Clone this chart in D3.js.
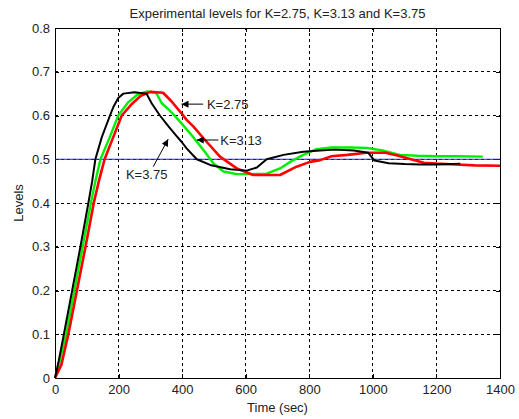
<!DOCTYPE html>
<html>
<head>
<meta charset="utf-8">
<script src="https://cdn.jsdelivr.net/npm/d3@7"></script>
<style>
    body { margin: 0; background: #fff; }
    text { font-family: "Liberation Sans", Arial, sans-serif; fill: #222; }
</style>
</head>
<body>
<svg id="mainSvg" width="519" height="419"></svg>
<script>
// time (sec) and level, one pair of arrays per gain
const timeK275 = [0, 20, 42, 69, 96, 122, 138, 156, 183, 210, 240, 270, 300, 340, 367, 398, 414, 435, 467, 519, 572, 624, 708, 760, 802, 834, 870, 920, 980, 1040, 1080, 1120, 1160, 1200, 1260, 1320, 1400];
const levelK275 = [0, 0.03, 0.1, 0.2, 0.3, 0.4, 0.45, 0.5, 0.55, 0.6, 0.625, 0.645, 0.654, 0.652, 0.632, 0.605, 0.59, 0.575, 0.548, 0.506, 0.479, 0.464, 0.464, 0.483, 0.494, 0.498, 0.507, 0.51, 0.515, 0.515, 0.508, 0.5, 0.492, 0.49, 0.488, 0.486, 0.485];

const timeK313 = [0, 15, 35, 61, 87, 113, 127, 143, 172, 199, 230, 260, 290, 318, 336, 367, 398, 430, 467, 498, 530, 572, 620, 666, 708, 740, 781, 823, 870, 930, 980, 1030, 1085, 1140, 1200, 1260, 1346];
const levelK313 = [0, 0.04, 0.1, 0.2, 0.3, 0.4, 0.45, 0.5, 0.55, 0.6, 0.63, 0.648, 0.655, 0.652, 0.628, 0.607, 0.582, 0.555, 0.521, 0.491, 0.472, 0.466, 0.466, 0.467, 0.479, 0.494, 0.51, 0.523, 0.527, 0.527, 0.526, 0.52, 0.51, 0.508, 0.507, 0.507, 0.506];

const timeK375 = [0, 12, 28, 54, 80, 105, 117, 127, 147, 173, 184, 199, 215, 250, 288, 304, 330, 357, 380, 398, 414, 446, 488, 551, 603, 635, 666, 719, 781, 834, 880, 940, 985, 1005, 1050, 1100, 1150, 1200, 1275];
const levelK375 = [0, 0.04, 0.1, 0.2, 0.3, 0.4, 0.45, 0.5, 0.55, 0.6, 0.62, 0.64, 0.65, 0.653, 0.65, 0.628, 0.6, 0.575, 0.555, 0.54, 0.525, 0.5, 0.487, 0.477, 0.474, 0.481, 0.5, 0.51, 0.517, 0.52, 0.522, 0.52, 0.515, 0.497, 0.491, 0.489, 0.488, 0.488, 0.49];

const setPoint = 0.5;
const xTicks = [0, 200, 400, 600, 800, 1000, 1200, 1400];
const yTicks = [0, 0.1, 0.2, 0.3, 0.4, 0.5, 0.6, 0.7, 0.8];

// labels: [text, textTime, textLevel, tailTime, tailLevel, tipTime, tipLevel]
const notes = [
    ["K=2.75", 478, 0.615, 466, 0.626, 398, 0.626],
    ["K=3.13", 520, 0.533, 514, 0.544, 446, 0.544],
    ["K=3.75", 223, 0.455, 309, 0.483, 356, 0.546]
];

let svg = d3.select('#mainSvg');
const margin = {left: 55, right: 19, top: 28, bottom: 41};
const width = +svg.attr('width'), height = +svg.attr('height');
const innerW = width - margin.left - margin.right;
const innerH = height - margin.top - margin.bottom;

const x = d3.scaleLinear().domain([0, 1400]).range([margin.left, margin.left + innerW]);
const y = d3.scaleLinear().domain([0, 0.8]).range([margin.top + innerH, margin.top]);

const zip = (ts, vs) => ts.map((t, i) => [t, vs[i]]);

/**
 * 网格与坐标轴
 */
const drawAxes = function () {
    const grid = svg.append("g");
    grid.selectAll(".vg").data(xTicks.slice(1, -1)).join("line")
        .attr("x1", d => x(d)).attr("x2", d => x(d))
        .attr("y1", y(0)).attr("y2", y(0.8));
    grid.selectAll(".hg").data(yTicks.slice(1, -1)).join("line")
        .attr("class", "hg")
        .attr("x1", x(0)).attr("x2", x(1400))
        .attr("y1", d => y(d)).attr("y2", d => y(d));
    grid.selectAll("line")
        .attr("stroke", "#000")
        .attr("stroke-width", 1)
        .attr("stroke-dasharray", "3,3")
        .attr("shape-rendering", "crispEdges");

    const xAxis = d3.axisBottom(x).tickValues(xTicks).tickSize(-4).tickPadding(7).tickFormat(d3.format("d"));
    const yAxis = d3.axisLeft(y).tickValues(yTicks).tickSize(-4).tickPadding(5).tickFormat(d => d === 0 ? "0" : d3.format(".1f")(d));
    const xTop = d3.axisTop(x).tickValues(xTicks).tickSize(-4).tickFormat("");
    const yRight = d3.axisRight(y).tickValues(yTicks).tickSize(-4).tickFormat("");

    svg.append("g").attr("transform", `translate(0,${y(0)})`).call(xAxis);
    svg.append("g").attr("transform", `translate(${x(0)},0)`).call(yAxis);
    svg.append("g").attr("transform", `translate(0,${y(0.8)})`).call(xTop);
    svg.append("g").attr("transform", `translate(${x(1400)},0)`).call(yRight);
    svg.selectAll(".domain, .tick line")
        .attr("stroke", "#000")
        .attr("shape-rendering", "crispEdges");
    svg.selectAll(".tick text")
        .attr("font-size", "13px")
        .attr("font-family", '"Liberation Sans", Arial, sans-serif')
        .attr("fill", "#222");

    svg.append("text")
        .text("Experimental levels for K=2.75, K=3.13 and K=3.75")
        .attr("x", x(700)).attr("y", 18)
        .attr("text-anchor", "middle")
        .attr("font-size", "13px");
    svg.append("text")
        .text("Time (sec)")
        .attr("x", x(700)).attr("y", 412)
        .attr("text-anchor", "middle")
        .attr("font-size", "13px");
    svg.append("text")
        .text("Levels")
        .attr("transform", `translate(23,${y(0.4)}) rotate(-90)`)
        .attr("text-anchor", "middle")
        .attr("font-size", "13px");
};

/**
 * 曲线
 */
const drawCurves = function () {
    const line = d3.line().x(d => x(d[0])).y(d => y(d[1]));

    svg.append("line")
        .attr("x1", x(0)).attr("x2", x(1400))
        .attr("y1", y(setPoint)).attr("y2", y(setPoint))
        .attr("stroke", "#1a1aff")
        .attr("stroke-width", 1.2);

    const series = [
        {data: zip(timeK313, levelK313), color: "#00ee00", w: 2.4},
        {data: zip(timeK275, levelK275), color: "#ff0000", w: 2.6},
        {data: zip(timeK375, levelK375), color: "#000000", w: 2.0}
    ];
    svg.selectAll(".curve").data(series).join("path")
        .attr("class", "curve")
        .attr("d", d => line(d.data))
        .attr("fill", "none")
        .attr("stroke", d => d.color)
        .attr("stroke-width", d => d.w)
        .attr("stroke-linejoin", "round");
};

/**
 * 箭头标注
 */
const drawNotes = function () {
    svg.append("defs").append("marker")
        .attr("id", "head")
        .attr("viewBox", "0 0 10 10")
        .attr("refX", 10).attr("refY", 5)
        .attr("markerWidth", 8).attr("markerHeight", 7)
        .attr("markerUnits", "userSpaceOnUse")
        .attr("orient", "auto")
        .append("path")
        .attr("d", "M0,0L10,5L0,10Z")
        .attr("fill", "#000");

    svg.selectAll(".arrow").data(notes).join("line")
        .attr("class", "arrow")
        .attr("x1", d => x(d[3])).attr("y1", d => y(d[4]))
        .attr("x2", d => x(d[5])).attr("y2", d => y(d[6]))
        .attr("stroke", "#000")
        .attr("stroke-width", 1)
        .attr("marker-end", "url(#head)");

    svg.selectAll(".note").data(notes).join("text")
        .attr("class", "note")
        .text(d => d[0])
        .attr("x", d => x(d[1]))
        .attr("y", d => y(d[2]))
        .attr("font-size", "13px");
};

function main() {
    drawAxes();
    drawCurves();
    drawNotes();
}

main();
</script>
</body>
</html>
